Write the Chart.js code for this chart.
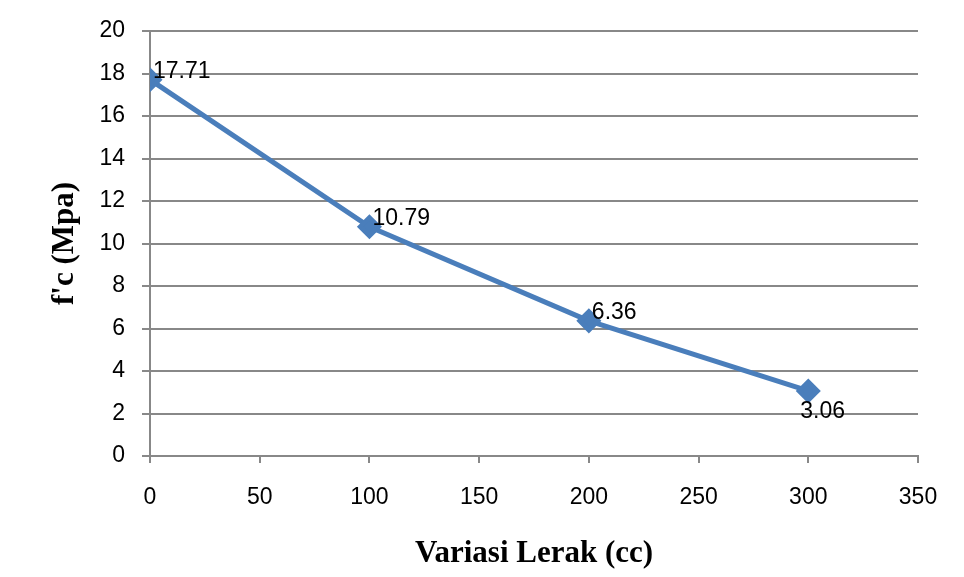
<!DOCTYPE html>
<html>
<head>
  <title>f'c vs Variasi Lerak</title>
  <script src="https://cdn.jsdelivr.net/npm/chart.js"></script>
  <style>
    html, body { margin: 0; padding: 0; background: #ffffff; }
    #wrap { width: 964px; height: 577px; }
  </style>
</head>
<body>
  <div id="wrap"><canvas id="myChart" width="964" height="577"></canvas></div>
  <script>
    // data
    var lerak = [0, 100, 200, 300];
    var fc = [17.71, 10.79, 6.36, 3.06];
    var pointLabels = ['17.71', '10.79', '6.36', '3.06'];
    // where each value label sits relative to its point
    var labelSide = ['right', 'right', 'right', 'below'];

    var lineColor = '#4A7EBB';
    var gridColor = '#888888';
    var tickFont = { family: 'Liberation Sans', size: 23 };
    var titleFont = { family: 'Liberation Serif', size: 31, weight: 'bold' };

    var points = [];
    for (var i = 0; i < lerak.length; i++) {
      points.push({ x: lerak[i], y: fc[i] });
    }

    var valueLabels = {
      id: 'valueLabels',
      afterDatasetsDraw: function(chart) {
        var ctx = chart.ctx;
        var meta = chart.getDatasetMeta(0);
        ctx.save();
        ctx.font = '23px "Liberation Sans"';
        ctx.fillStyle = '#000000';
        ctx.textBaseline = 'middle';
        ctx.textAlign = 'left';
        meta.data.forEach(function(pt, i) {
          if (labelSide[i] === 'below') {
            ctx.fillText(pointLabels[i], pt.x - 8, pt.y + 21);
          } else {
            ctx.fillText(pointLabels[i], pt.x + 3, pt.y - 8);
          }
        });
        ctx.restore();
      }
    };

    var ctx = document.getElementById('myChart').getContext('2d');
    var chart = new Chart(ctx, {
      type: 'scatter',
      data: {
        datasets: [{
          label: "f'c",
          data: points,
          showLine: true,
          borderColor: lineColor,
          backgroundColor: lineColor,
          borderWidth: 5,
          pointStyle: 'rectRot',
          pointRadius: 9,
          pointHoverRadius: 9
        }]
      },
      options: {
        responsive: false,
        animation: false,
        layout: { padding: { left: 46, right: 46, top: 31, bottom: 4 } },
        plugins: {
          legend: { display: false },
          tooltip: { enabled: false }
        },
        scales: {
          x: {
            type: 'linear',
            min: 0,
            max: 350,
            ticks: { stepSize: 50, color: '#000000', font: tickFont, padding: 21 },
            grid: { drawOnChartArea: false, drawTicks: true, tickLength: 7, color: gridColor, lineWidth: 2 },
            border: { color: gridColor, width: 2 },
            title: { display: true, text: 'Variasi Lerak (cc)', color: '#000000', font: titleFont, padding: { top: 0, bottom: 0 } },
            afterFit: function(scale) { scale.height = 117; }
          },
          y: {
            min: 0,
            max: 20,
            ticks: { stepSize: 2, color: '#000000', font: tickFont, padding: 17 },
            grid: { drawTicks: true, tickLength: 8, color: gridColor, lineWidth: 2 },
            border: { color: gridColor, width: 2 },
            title: { display: true, text: "f'c (Mpa)", color: '#000000', font: titleFont, padding: { top: 0, bottom: 0 } },
            afterFit: function(scale) { scale.width = 104; }
          }
        }
      },
      plugins: [valueLabels]
    });
  </script>
</body>
</html>
